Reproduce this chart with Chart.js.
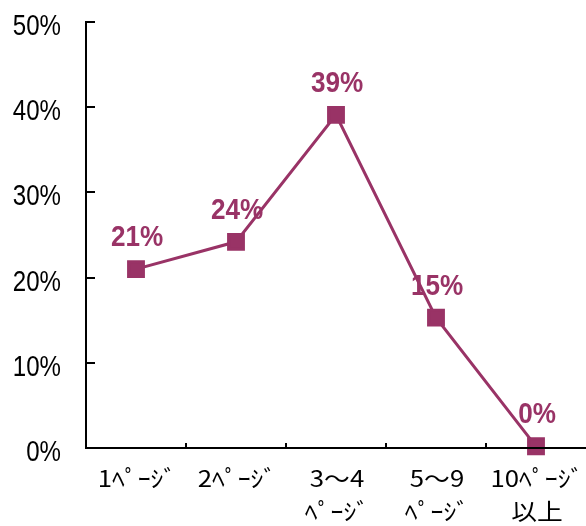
<!DOCTYPE html>
<html>
<head>
<meta charset="utf-8">
<script src="https://cdn.jsdelivr.net/npm/chart.js@4/dist/chart.umd.min.js"></script>
<style>
	html, body { margin: 0; padding: 0; background: #fff; }
	#wrap { width: 586px; height: 526px; }
</style>
</head>
<body>
<div id="wrap"><canvas id="c" width="586" height="526"></canvas></div>
<script>
const categories = [["1ﾍﾟｰｼﾞ"], ["2ﾍﾟｰｼﾞ"], ["3～4", "ﾍﾟｰｼﾞ"], ["5～9", "ﾍﾟｰｼﾞ"], ["10ﾍﾟｰｼﾞ", "以上"]];
const values = [21.0, 24.2, 39.1, 15.3, 0.2];
const valueLabels = ["21%", "24%", "39%", "15%", "0%"];
const yTicks = [0, 10, 20, 30, 40, 50];

const plum = "#993366";

// squeezed / stretched text, the original font is a narrow gothic
function drawText(ctx, txt, x, y, align, sx) {
	ctx.save();
	ctx.translate(x, y);
	ctx.scale(sx, 1);
	ctx.textAlign = align;
	ctx.textBaseline = "alphabetic";
	ctx.fillText(txt, 0, 0);
	ctx.restore();
}

// axes, inward ticks, all labels
const decor = {
	id: "decor",
	afterDraw(chart) {
		const ctx = chart.ctx;
		const x = chart.scales.x;
		const y = chart.scales.y;
		ctx.save();
		ctx.strokeStyle = "#000";
		ctx.lineWidth = 2;
		ctx.beginPath();
		ctx.moveTo(x.left, y.top - 1);
		ctx.lineTo(x.left, y.bottom);
		ctx.lineTo(x.right, y.bottom);
		ctx.stroke();

		ctx.fillStyle = "#000";
		ctx.font = "29px 'Liberation Sans', Arial, sans-serif";
		yTicks.forEach(function(v) {
			const py = Math.round(y.getPixelForValue(v));
			ctx.beginPath();
			ctx.moveTo(x.left, py);
			ctx.lineTo(x.left + 9, py);
			ctx.stroke();
			drawText(ctx, v + "%", 61, py + 12.5, "right", 0.83);
		});

		for (let i = 1; i < categories.length; i++) {
			const px = Math.round((x.getPixelForValue(i - 1) + x.getPixelForValue(i)) / 2);
			ctx.beginPath();
			ctx.moveTo(px, y.bottom);
			ctx.lineTo(px, y.bottom - 5);
			ctx.stroke();
		}

		ctx.font = "23px 'Noto Sans CJK JP', sans-serif";
		categories.forEach(function(lines, i) {
			const px = x.getPixelForValue(i);
			lines.forEach(function(s, k) {
				drawText(ctx, s, px + 1, y.bottom + 39 + k * 33, "center", 1.12);
			});
		});

		ctx.fillStyle = plum;
		ctx.font = "bold 30px 'Liberation Sans', Arial, sans-serif";
		const meta = chart.getDatasetMeta(0);
		meta.data.forEach(function(pt, i) {
			drawText(ctx, valueLabels[i], pt.x + 1, pt.y - 23, "center", 0.87);
		});
		ctx.restore();
	}
};

new Chart(document.getElementById("c").getContext("2d"), {
	type: "line",
	data: {
		labels: categories,
		datasets: [
			{
				data: values,
				borderColor: plum,
				backgroundColor: plum,
				borderWidth: 3,
				pointStyle: "rect",
				pointRadius: 10.5,
				pointHoverRadius: 10.5,
				tension: 0,
				clip: false,
			},
		],
	},
	options: {
		responsive: false,
		animation: false,
		events: [],
		layout: {
			autoPadding: false,
			padding: { top: 22, right: 0, left: 0, bottom: 0 }
		},
		plugins: {
			legend: { display: false },
			tooltip: { enabled: false },
		},
		scales: {
			x: {
				offset: true,
				border: { display: false },
				grid: { display: false, drawTicks: false },
				ticks: { display: false },
				afterFit: function(scale) { scale.height = 78; }
			},
			y: {
				min: 0,
				max: 50,
				border: { display: false },
				grid: { display: false, drawTicks: false },
				ticks: { display: false, stepSize: 10 },
				afterFit: function(scale) { scale.width = 86; }
			}
		},
	},
	plugins: [decor],
});
</script>
</body>
</html>
